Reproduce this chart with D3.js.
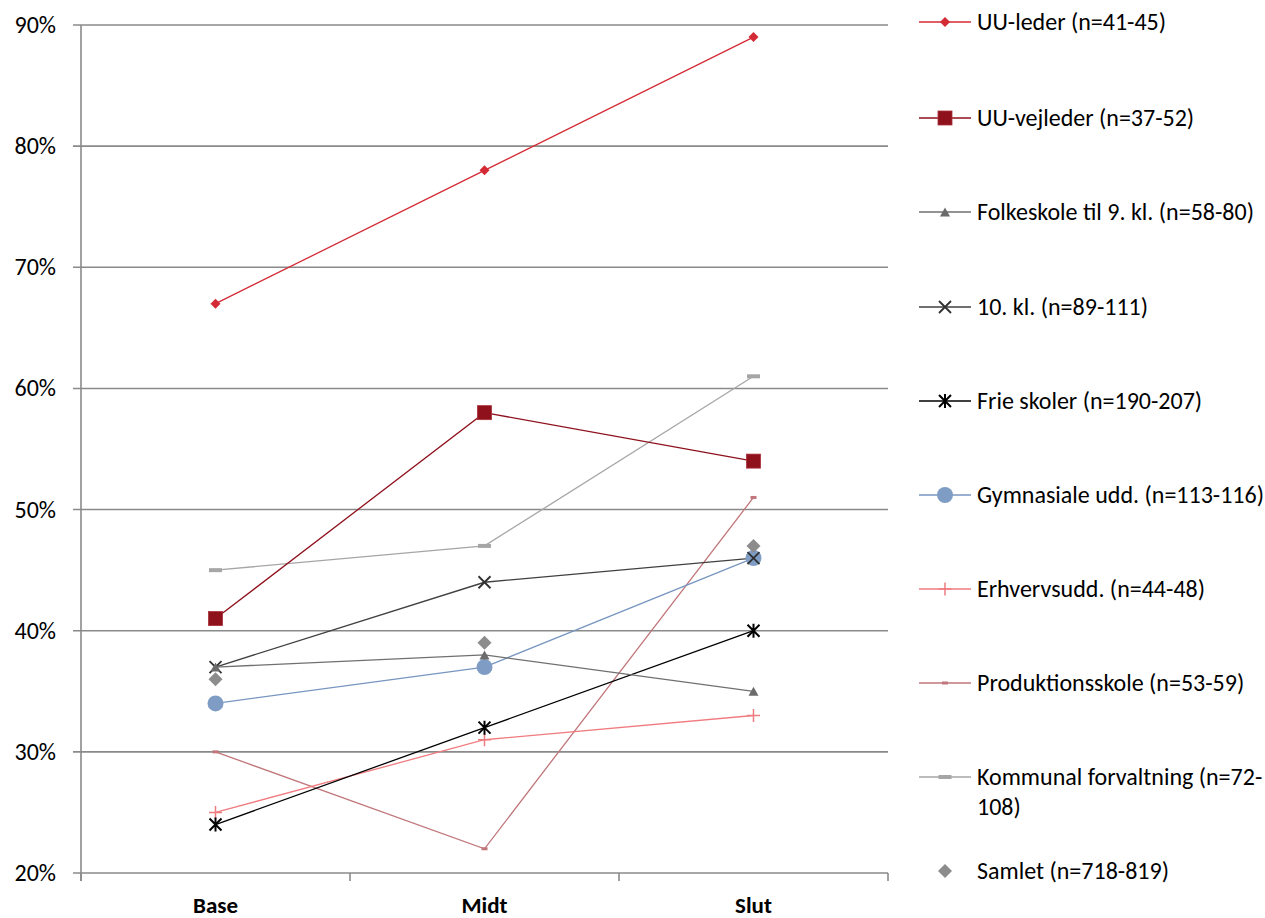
<!DOCTYPE html>
<html>
<head>
<meta charset="utf-8">
<script src="https://cdn.jsdelivr.net/npm/d3@7/dist/d3.min.js"></script>
<style>
  body { margin: 0; background: #fff; }
  text { font-family: Carlito, Calibri, Lato, sans-serif; fill: #000; }
</style>
</head>
<body>
<div id="canvas"></div>
<script>
const w = 1265;
const h = 918;

// data
const categories = ["Base", "Midt", "Slut"];
const yTicks = [0.2, 0.3, 0.4, 0.5, 0.6, 0.7, 0.8, 0.9];

const uuLeder = [0.67, 0.78, 0.89];
const uuVejleder = [0.41, 0.58, 0.54];
const folkeskole = [0.37, 0.38, 0.35];
const tiendeKl = [0.37, 0.44, 0.46];
const frieSkoler = [0.24, 0.32, 0.40];
const gymnasiale = [0.34, 0.37, 0.46];
const erhvervsudd = [0.25, 0.31, 0.33];
const produktion = [0.30, 0.22, 0.51];
const kommunal = [0.45, 0.47, 0.61];
const samlet = [0.36, 0.39, 0.47];

const seriesNames = [
  "UU-leder (n=41-45)",
  "UU-vejleder (n=37-52)",
  "Folkeskole til 9. kl. (n=58-80)",
  "10. kl. (n=89-111)",
  "Frie skoler (n=190-207)",
  "Gymnasiale udd. (n=113-116)",
  "Erhvervsudd. (n=44-48)",
  "Produktionsskole (n=53-59)",
  "Kommunal forvaltning (n=72-108)",
  "Samlet (n=718-819)"
];
const seriesValues = [uuLeder, uuVejleder, folkeskole, tiendeKl, frieSkoler,
  gymnasiale, erhvervsudd, produktion, kommunal, samlet];

// styles per series (same order)
const styles = [
  {line: "#d42a35", mark: "diamond", fill: "#d42a35", size: 10},
  {line: "#8f111c", mark: "square", fill: "#8f111c", size: 14},
  {line: "#707070", mark: "triangle", fill: "#6b6b6b", size: 9},
  {line: "#404040", mark: "x", fill: "#303030", size: 12},
  {line: "#000000", mark: "star", fill: "#000", size: 12},
  {line: "#7896c0", mark: "circle", fill: "#7f9dc4", size: 16},
  {line: "#f07c80", mark: "plus", fill: "#f07c80", size: 13},
  {line: "#c0767a", mark: "dash", fill: "#c0767a", size: 6},
  {line: "#a6a6a6", mark: "dash", fill: "#a6a6a6", size: 13},
  {line: null, mark: "diamond", fill: "#8c8c8c", size: 14}
];

const padL = 81, padR = 888, padT = 25, padB = 873;

let svg = d3.select("#canvas").append("svg").attr("width", w).attr("height", h);

let x = d3.scaleBand().domain(categories).range([padL, padR]).padding(0);
let y = d3.scaleLinear().domain([0.2, 0.9]).range([padB, padT]);

// gridlines + y labels
svg.append("g").selectAll("line").data(yTicks)
  .enter().append("line")
  .attr("x1", padL - 8).attr("x2", padR)
  .attr("y1", (d) => y(d)).attr("y2", (d) => y(d))
  .attr("stroke", "#8a8a8a").attr("stroke-width", 1.6);

svg.append("g").selectAll("text").data(yTicks)
  .enter().append("text")
  .attr("x", 56).attr("y", (d) => y(d) + 8)
  .attr("text-anchor", "end")
  .style("font-size", "24px")
  .text((d) => Math.round(d * 100) + "%");

// y axis line
svg.append("line").attr("x1", padL).attr("x2", padL).attr("y1", padT).attr("y2", padB + 8)
  .attr("stroke", "#8a8a8a").attr("stroke-width", 1.6);

// x axis ticks between categories
let xEdges = categories.map((c) => x(c)).concat([x(categories[2]) + x.bandwidth()]);
svg.append("g").selectAll("line").data(xEdges)
  .enter().append("line")
  .attr("x1", (d) => d).attr("x2", (d) => d)
  .attr("y1", padB).attr("y2", padB + 8)
  .attr("stroke", "#8a8a8a").attr("stroke-width", 1.6);

svg.append("g").selectAll("text").data(categories)
  .enter().append("text")
  .attr("x", (d) => x(d) + x.bandwidth() / 2).attr("y", 913)
  .attr("text-anchor", "middle")
  .style("font-size", "23px").style("font-weight", "bold")
  .text((d) => d);

function drawMarker(g, st, cx, cy) {
  let s = st.size;
  if (st.mark == "diamond") {
    g.append("path").attr("d", d3.symbol().type(d3.symbolSquare).size(s * s / 2)())
      .attr("transform", "translate(" + cx + "," + cy + ") rotate(45)")
      .attr("fill", st.fill);
  } else if (st.mark == "square") {
    g.append("rect").attr("x", cx - s / 2).attr("y", cy - s / 2).attr("width", s).attr("height", s)
      .attr("fill", st.fill).attr("stroke", "#a8303a").attr("stroke-width", 0.8);
  } else if (st.mark == "triangle") {
    g.append("path").attr("d", "M0," + (-s / 2) + "L" + (s / 1.8) + "," + (s / 2) + "L" + (-s / 1.8) + "," + (s / 2) + "Z")
      .attr("transform", "translate(" + cx + "," + cy + ")")
      .attr("fill", st.fill);
  } else if (st.mark == "x") {
    let r = s / 2;
    g.append("path").attr("d", "M" + (-r) + "," + (-r) + "L" + r + "," + r + "M" + (-r) + "," + r + "L" + r + "," + (-r))
      .attr("transform", "translate(" + cx + "," + cy + ")")
      .attr("stroke", st.fill).attr("stroke-width", 1.8).attr("fill", "none");
  } else if (st.mark == "star") {
    let r = s / 2;
    g.append("path").attr("d", "M" + (-r) + "," + (-r) + "L" + r + "," + r + "M" + (-r) + "," + r + "L" + r + "," + (-r) + "M0," + (-r - 1) + "L0," + (r + 1))
      .attr("transform", "translate(" + cx + "," + cy + ")")
      .attr("stroke", st.fill).attr("stroke-width", 2).attr("fill", "none");
  } else if (st.mark == "circle") {
    g.append("circle").attr("cx", cx).attr("cy", cy).attr("r", s / 2).attr("fill", st.fill);
  } else if (st.mark == "plus") {
    let r = s / 2;
    g.append("path").attr("d", "M" + (-r) + ",0L" + r + ",0M0," + (-r) + "L0," + r)
      .attr("transform", "translate(" + cx + "," + cy + ")")
      .attr("stroke", st.fill).attr("stroke-width", 1.5).attr("fill", "none");
  } else if (st.mark == "dash") {
    let hh = s > 8 ? 4 : 3;
    g.append("rect").attr("x", cx - s / 2).attr("y", cy - hh / 2).attr("width", s).attr("height", hh)
      .attr("fill", st.fill);
  }
}

// lines and markers
let line = d3.line().x((d, i) => x(categories[i]) + x.bandwidth() / 2).y((d) => y(d));
let plot = svg.append("g");
let order = [8, 7, 6, 5, 4, 3, 2, 1, 0, 9];
for (let k of order) {
  let st = styles[k];
  let g = plot.append("g");
  if (st.line) {
    g.append("path").datum(seriesValues[k]).attr("d", line)
      .attr("fill", "none").attr("stroke", st.line).attr("stroke-width", 1.3);
  }
}
for (let k of order) {
  let st = styles[k];
  let g = plot.append("g");
  seriesValues[k].forEach((v, i) => {
    drawMarker(g, st, x(categories[i]) + x.bandwidth() / 2, y(v));
  });
}

// legend
let legendY = [22, 118, 212, 307, 401, 495, 589, 683, 777, 871];
let leg = svg.append("g");
seriesNames.forEach((name, k) => {
  let st = styles[k];
  let ly = legendY[k];
  let g = leg.append("g");
  if (st.line) {
    g.append("line").attr("x1", 919).attr("x2", 971).attr("y1", ly).attr("y2", ly)
      .attr("stroke", st.line).attr("stroke-width", 1.3);
  }
  drawMarker(g, st, 945, ly);
  if (name.indexOf("Kommunal") == 0) {
    g.append("text").attr("x", 977).attr("y", ly + 8).style("font-size", "24px").text("Kommunal forvaltning (n=72-");
    g.append("text").attr("x", 977).attr("y", ly + 38).style("font-size", "24px").text("108)");
  } else {
    g.append("text").attr("x", 977).attr("y", ly + 8).style("font-size", "24px").text(name);
  }
});
</script>
</body>
</html>
